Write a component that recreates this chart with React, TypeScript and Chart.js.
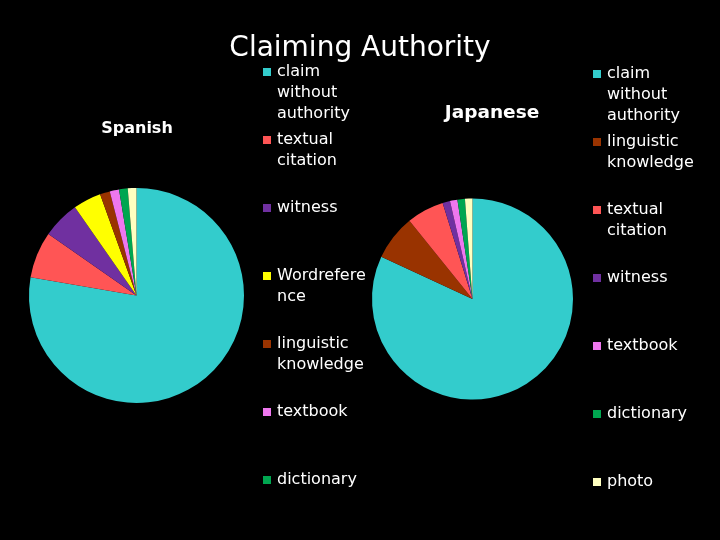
import React, { useEffect, useRef } from "react";
import { Chart, registerables } from "chart.js";

Chart.register(...registerables);

// Spanish pie (clockwise from 12 o'clock)
const spanishLabels = [
  "claim without authority",
  "textual citation",
  "witness",
  "Wordreference",
  "linguistic knowledge",
  "textbook",
  "dictionary",
  "photo",
];
const spanishValues = [77.7, 7.0, 5.6, 4.2, 1.5, 1.4, 1.3, 1.3];
const spanishColors = ["#33CCCC", "#FF5555", "#7030A0", "#FFFF00", "#993300", "#EE77EE", "#00A650", "#FFFFC0"];

// Japanese pie
const japaneseLabels = [
  "claim without authority",
  "linguistic knowledge",
  "textual citation",
  "witness",
  "textbook",
  "dictionary",
  "photo",
];
const japaneseValues = [81.9, 7.3, 6.0, 1.2, 1.2, 1.2, 1.2];
const japaneseColors = ["#33CCCC", "#993300", "#FF5555", "#7030A0", "#EE77EE", "#00A650", "#FFFFC0"];

const FONT = "'DejaVu Sans', sans-serif";

function wrapText(ctx: CanvasRenderingContext2D, text: string, maxW: number): string[] {
  const lines: string[] = [];
  let cur = "";
  for (const word of text.split(" ")) {
    const attempt = cur ? cur + " " + word : word;
    if (ctx.measureText(attempt).width <= maxW) {
      cur = attempt;
      continue;
    }
    if (cur) lines.push(cur);
    let w = word;
    while (ctx.measureText(w).width > maxW) {
      let i = w.length;
      while (i > 1 && ctx.measureText(w.slice(0, i)).width > maxW) i--;
      lines.push(w.slice(0, i));
      w = w.slice(i);
    }
    cur = w;
  }
  if (cur) lines.push(cur);
  return lines;
}

// draws the heading text and the slide-style legend for one pie
const slideText = {
  id: "slideText",
  afterDraw(chart: any, _args: any, opts: any) {
    const ctx: CanvasRenderingContext2D = chart.ctx;
    ctx.save();
    ctx.fillStyle = "#ffffff";
    (opts.headers || []).forEach((h: any) => {
      ctx.font = h.font;
      ctx.textAlign = "center";
      ctx.textBaseline = "alphabetic";
      ctx.fillText(h.text, h.x, h.y);
    });
    const lg = opts.legend;
    const labels: string[] = chart.data.labels;
    const colors: string[] = chart.data.datasets[0].backgroundColor;
    ctx.font = "16px " + FONT;
    ctx.textAlign = "left";
    ctx.textBaseline = "middle";
    labels.forEach((label, i) => {
      const y = lg.y0 + lg.step * i;
      ctx.fillStyle = colors[i];
      ctx.fillRect(lg.x, y - 4, 8, 8);
      ctx.fillStyle = "#ffffff";
      wrapText(ctx, label, lg.maxWidth).forEach((line, j) => {
        ctx.fillText(line, lg.x + 14, y + j * 20.7);
      });
    });
    ctx.restore();
  },
};

const App: React.FC = () => {
  const spanishRef = useRef<HTMLCanvasElement>(null);
  const japaneseRef = useRef<HTMLCanvasElement>(null);

  useEffect(() => {
    document.body.style.margin = "0";
    document.body.style.background = "#000";
    const charts: Chart[] = [];

    const make = (canvas: HTMLCanvasElement | null, labels: string[], values: number[], colors: string[], padding: any, text: any) => {
      if (!canvas) return;
      const ctx = canvas.getContext("2d");
      if (!ctx) return;
      charts.push(
        new Chart(ctx, {
          type: "pie",
          data: {
            labels: labels,
            datasets: [{ data: values, backgroundColor: colors, borderWidth: 0 }],
          },
          options: {
            responsive: false,
            animation: false,
            layout: { padding: padding },
            plugins: {
              legend: { display: false },
              tooltip: { enabled: false },
              slideText: text,
            } as any,
          },
          plugins: [slideText],
        })
      );
    };

    make(spanishRef.current, spanishLabels, spanishValues, spanishColors,
      { left: 29, top: 188, right: 476, bottom: 137 },
      {
        headers: [
          { text: "Claiming Authority", x: 360, y: 56, font: "28px " + FONT },
          { text: "Spanish", x: 137, y: 133, font: "bold 16px " + FONT },
        ],
        legend: { x: 263, y0: 72, step: 68, maxWidth: 96 },
      });

    make(japaneseRef.current, japaneseLabels, japaneseValues, japaneseColors,
      { left: 372, top: 198, right: 147, bottom: 140 },
      {
        headers: [{ text: "Japanese", x: 492, y: 118, font: "bold 18.5px " + FONT }],
        legend: { x: 593, y0: 74, step: 68, maxWidth: 96 },
      });

    return () => {
      charts.forEach((c) => c.destroy());
    };
  }, []);

  return (
    <div style={{ position: "fixed", left: 0, top: 0, width: 720, height: 540, background: "#000" }}>
      <canvas ref={spanishRef} width={720} height={540} style={{ position: "absolute", left: 0, top: 0 }} />
      <canvas ref={japaneseRef} width={720} height={540} style={{ position: "absolute", left: 0, top: 0 }} />
    </div>
  );
};

export default App;
